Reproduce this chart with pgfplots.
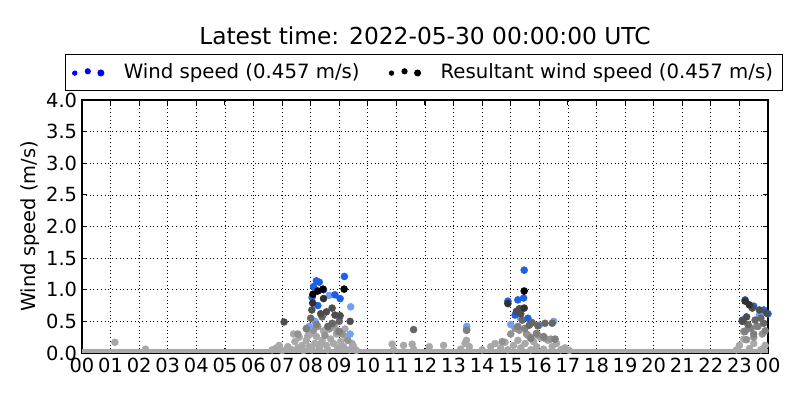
\documentclass[border=0pt]{standalone}
\usepackage{fontspec}
\setmainfont{DejaVu Sans}
\usepackage{pgfplots}
\pgfplotsset{compat=1.18}

\definecolor{wsblue}{HTML}{1F5FE3}
\definecolor{wslight}{HTML}{72A0F2}
\definecolor{lgrey}{HTML}{A8A8A8}
\definecolor{mgrey}{HTML}{929292}
\definecolor{grey7}{HTML}{7F7F7F}
\definecolor{grey6}{HTML}{666666}
\definecolor{grey4}{HTML}{4D4D4D}
\definecolor{grey3}{HTML}{303030}

\pgfplotsset{
  pt/.style={only marks, mark=*, mark size=2.5pt, mark options={draw=#1, fill=#1}, forget plot},
}

\begin{document}
\begin{tikzpicture}
% 800x400 px -> 576x288 pt
\path[use as bounding box] (0,0) rectangle (576pt,288pt);
\begin{axis}[
  at={(59.04pt,33.84pt)}, anchor=south west,
  scale only axis, width=493.92pt, height=182.16pt,
  xmin=0, xmax=24, ymin=0, ymax=4,
  xtick={0,...,24},
  xticklabels={00,01,02,03,04,05,06,07,08,09,10,11,12,13,14,15,16,17,18,19,20,21,22,23,00},
  ytick={0,0.5,...,4},
  yticklabel style={/pgf/number format/.cd, fixed, fixed zerofill, precision=1},
  /pgf/number format/assume math mode=true,
  tick label style={font=\fontsize{14}{16}\selectfont},
  label style={font=\fontsize{14}{16}\selectfont},
  ylabel={Wind speed (m/s)},
  ylabel style={at={(axis description cs:-0.0758,0.5)}, anchor=center},
  title={Latest time: 2022-05-30 00:00:00 UTC},
  title style={font=\fontsize{16.8}{19}\selectfont, at={(axis description cs:0.5,1.222)}, anchor=center},
  tick align=inside, major tick length=3.5pt,
  tick style={black, line width=0.8pt},
  axis line style={line width=0.9pt},
  grid=major,
  major grid style={black, line width=0.5pt, dash pattern=on 0.7pt off 2pt},
  legend columns=2,
  legend style={at={(axis description cs:0.4985,1.109)}, anchor=center,
    draw=black, line width=0.8pt, font=\fontsize{14.2}{17}\selectfont,
    inner ysep=5pt, inner xsep=5pt,
    /tikz/every odd column/.append style={column sep=12pt},
    /tikz/every even column/.append style={column sep=19pt}},
]
% band of calm readings at zero
\addplot[lgrey, line width=2.8pt, forget plot] coordinates {(0,0.025) (24,0.025)};

\addplot[pt=lgrey] coordinates {
(1.15,0.17) (2.22,0.06) (6.65,0.05) (6.8,0.08) (6.9,0.12) (7.0,0.04) (7.2,0.1)
(7.3,0.06) (7.45,0.18) (7.55,0.08) (7.6,0.25) (7.7,0.12) (7.75,0.04) (7.85,0.2)
(7.95,0.1) (8.0,0.3) (8.05,0.05) (8.15,0.15) (8.2,0.26) (8.3,0.08) (8.4,0.2)
(8.45,0.35) (8.55,0.12) (8.6,0.05) (8.7,0.22) (8.8,0.15) (8.9,0.3) (8.95,0.08)
(9.05,0.18) (9.15,0.1) (9.25,0.25) (9.35,0.05) (9.45,0.15) (9.6,0.04)
(7.4,0.3) (7.9,0.27) (8.35,0.14) (8.85,0.4) (9.2,0.38) (9.5,0.1)
(10.85,0.14) (10.9,0.05) (11.25,0.12) (11.55,0.14) (11.6,0.06) (12.15,0.1)
(12.65,0.12) (13.25,0.06) (13.4,0.15) (13.45,0.2) (13.55,0.1) (14.0,0.05)
(14.3,0.1) (14.45,0.15) (14.65,0.08) (14.8,0.17) (14.9,0.05) (15.1,0.12)
(15.25,0.2) (15.35,0.08) (15.5,0.15) (15.6,0.28) (15.7,0.05) (15.8,0.18)
(15.9,0.1) (16.05,0.24) (16.15,0.06) (16.3,0.2) (16.45,0.1) (16.6,0.15)
(16.75,0.05) (16.9,0.08) (17.05,0.04)
(22.9,0.05) (23.0,0.12) (23.15,0.22) (23.35,0.07) (23.5,0.15) (23.75,0.05) (23.9,0.12)
};
\addplot[pt=mgrey] coordinates {
(7.55,0.3) (7.85,0.39) (8.1,0.36) (8.25,0.42) (8.5,0.28) (8.65,0.38) (8.8,0.45)
(8.95,0.34) (9.1,0.3) (9.3,0.2)
(13.45,0.36) (14.7,0.18) (15.0,0.3) (15.15,0.39) (15.3,0.36) (15.55,0.3)
(15.7,0.25) (15.95,0.28) (16.2,0.23) (16.4,0.22)
(23.15,0.34) (23.3,0.39) (23.6,0.42) (23.25,0.21) (23.5,0.25) (23.8,0.3)
};
\addplot[pt=wslight] coordinates {
(7.95,0.42) (8.15,0.5) (8.65,0.91) (9.4,0.73) (9.38,0.3) (9.0,0.55)
(13.46,0.42) (15.0,0.45) (15.35,0.55) (16.5,0.5) (16.0,0.44) (23.7,0.6)
};
\addplot[pt=wsblue, forget plot=false,
  legend image code/.code={
    \fill[blue] (0pt,-0.5pt) circle (1.5pt);
    \fill[blue] (9.4pt,0.8pt) circle (1.8pt);
    \fill[blue] (18.8pt,-0.4pt) circle (2.1pt);}] coordinates {
(8.1,1.05) (8.2,1.14) (8.3,1.12) (8.45,1.0) (8.05,0.88) (8.85,0.92) (9.03,0.86)
(9.18,1.21) (8.25,0.75) (14.9,0.82) (15.25,0.84) (15.45,0.87) (15.47,1.31)
(15.15,0.6) (15.6,0.55) (23.2,0.84) (23.5,0.74) (23.85,0.68) (24.0,0.62) (23.1,0.52)
};
\addlegendentry{Wind speed (0.457 m/s)}

\addplot[pt=grey7] coordinates {
(7.85,0.38) (8.2,0.45) (9.0,0.34) (13.46,0.36) (15.25,0.42) (15.5,0.39) (15.9,0.31)
(16.15,0.26) (16.55,0.22) (15.7,0.23) (23.2,0.34) (23.4,0.39) (23.65,0.42)
(23.5,0.3) (23.9,0.35)
};
\addplot[pt=grey6] coordinates {
(8.0,0.55) (8.4,0.57) (8.6,0.42) (9.0,0.5) (8.75,0.47) (11.6,0.37) (15.4,0.52)
(15.65,0.44) (15.95,0.43) (16.2,0.47) (16.45,0.47) (15.75,0.48) (23.55,0.52)
(23.85,0.47) (23.3,0.45) (23.75,0.55)
};
\addplot[pt=grey4] coordinates {
(8.04,0.68) (8.35,0.62) (8.55,0.65) (8.75,0.71) (9.03,0.59) (8.85,0.6) (7.07,0.49)
(9.38,0.5) (15.2,0.66) (15.35,0.62) (15.3,0.7) (23.45,0.71) (23.7,0.68)
(23.95,0.63) (23.25,0.57) (23.1,0.5)
};
\addplot[pt=grey3] coordinates {
(8.07,0.79) (8.45,0.86) (15.47,0.71) (14.9,0.78) (23.2,0.82) (23.35,0.76)
};
\addplot[pt=black, forget plot=false,
  legend image code/.code={
    \fill[black] (0pt,-0.5pt) circle (1.5pt);
    \fill[black] (9.4pt,0.8pt) circle (1.8pt);
    \fill[black] (18.8pt,-0.4pt) circle (2.1pt);}] coordinates {
(8.08,0.93) (8.25,0.98) (8.43,1.01) (9.17,1.01) (15.47,0.98)
};
\addlegendentry{Resultant wind speed (0.457 m/s)}
\end{axis}
\end{tikzpicture}
\end{document}
